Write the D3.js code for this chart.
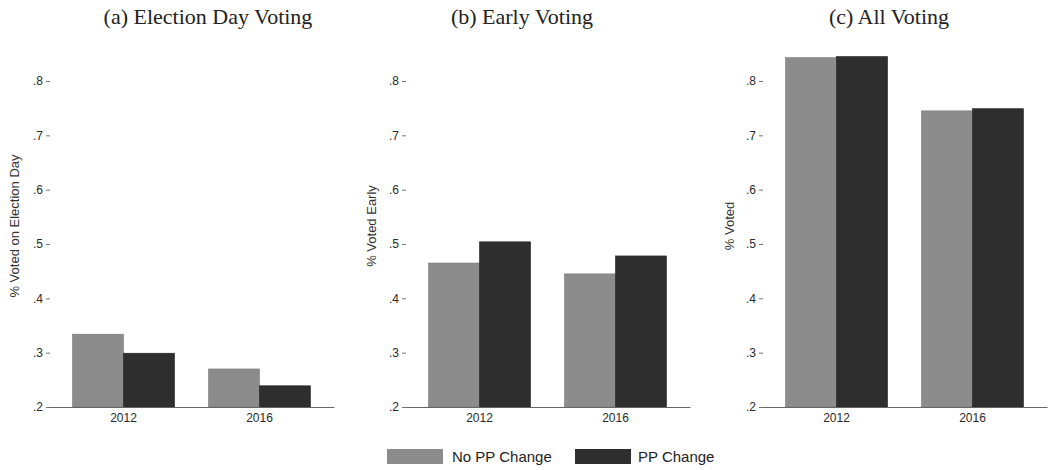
<!DOCTYPE html>
<html>
<head>
<meta charset="utf-8">
<script src="https://cdn.jsdelivr.net/npm/d3@7"></script>
<style>
  body { margin: 0; background: #fff; }
  .tick text { font-family: "Liberation Sans", Arial, sans-serif; fill: #2a2a2a; }
</style>
</head>
<body>
<svg id="chart" width="1049" height="470"></svg>
<script>
// data
const years = ["2012", "2016"];
const series = ["No PP Change", "PP Change"];
const seriesColors = ["#8c8c8c", "#2e2e2e"];
const panelTitles = ["(a) Election Day Voting", "(b) Early Voting", "(c) All Voting"];
const axisTitles = ["% Voted on Election Day", "% Voted Early", "% Voted"];
const electionDay = [[0.334, 0.299], [0.270, 0.239]];
const earlyVote = [[0.465, 0.504], [0.445, 0.478]];
const allVote = [[0.843, 0.845], [0.745, 0.749]];
const yTicks = [0.2, 0.3, 0.4, 0.5, 0.6, 0.7, 0.8];

const panelValues = [electionDay, earlyVote, allVote];

const svg = d3.select("#chart");

// same y scale in all three panels
const y = d3.scaleLinear().domain([0.2, 0.8]).range([407, 81]);

const panels = [
    { left: 49, titleX: 208, labelX: 15 },
    { left: 405, titleX: 522, labelX: 372 },
    { left: 762, titleX: 889, labelX: 730 }
];
const plotWidth = 285;

panels.forEach((p, i) => {
    const g = svg.append("g");

    const x = d3.scaleBand()
        .domain(years)
        .range([p.left, p.left + plotWidth])
        .paddingInner(0.25)
        .paddingOuter(0.173);

    const xSub = d3.scaleBand()
        .domain(series)
        .range([0, x.bandwidth()]);

    // bars
    years.forEach((yr, yi) => {
        g.selectAll(".bar-" + yi)
            .data(panelValues[i][yi])
            .enter()
            .append("rect")
            .attr("x", (d, si) => x(yr) + xSub(series[si]))
            .attr("y", d => y(d))
            .attr("width", xSub.bandwidth())
            .attr("height", d => y(0.2) - y(d))
            .attr("fill", (d, si) => seriesColors[si])
            .attr("stroke", (d, si) => si === 0 ? "#7a7a7a" : "#222")
            .attr("stroke-width", 0.6);
    });

    // x axis
    const xAxis = g.append("g")
        .attr("transform", `translate(0, ${y(0.2)})`)
        .call(d3.axisBottom(x).tickSize(0).tickPadding(6));
    xAxis.select(".domain").attr("stroke", "#666").attr("stroke-width", 1.2);
    xAxis.selectAll("text").attr("font-size", 12);

    // y axis, ticks only
    const yAxis = g.append("g")
        .attr("transform", `translate(${p.left + 1}, 0)`)
        .call(d3.axisLeft(y).tickValues(yTicks)
            .tickFormat(d => d3.format(".1f")(d).replace(/^0/, ""))
            .tickSize(4).tickPadding(3));
    yAxis.select(".domain").remove();
    yAxis.selectAll("line").attr("stroke", "#777");
    yAxis.selectAll("text").attr("font-size", 12);

    // titles
    svg.append("text")
        .attr("x", p.titleX)
        .attr("y", 24)
        .attr("text-anchor", "middle")
        .style("font-family", "'Liberation Serif', 'Times New Roman', serif")
        .style("font-size", "22px")
        .style("fill", "#222")
        .text(panelTitles[i]);

    svg.append("text")
        .attr("transform", `translate(${p.labelX + 4}, 226) rotate(-90)`)
        .attr("text-anchor", "middle")
        .style("font-family", "'Liberation Sans', Arial, sans-serif")
        .style("font-size", "13px")
        .style("fill", "#333")
        .text(axisTitles[i]);
});

// legend
const legendItems = [
    { x: 387, textX: 452 },
    { x: 575, textX: 638 }
];
series.forEach((s, si) => {
    svg.append("rect")
        .attr("x", legendItems[si].x)
        .attr("y", 449)
        .attr("width", 56)
        .attr("height", 15)
        .attr("fill", seriesColors[si]);
    svg.append("text")
        .attr("x", legendItems[si].textX)
        .attr("y", 462)
        .style("font-family", "'Liberation Sans', Arial, sans-serif")
        .style("font-size", "15px")
        .style("fill", "#222")
        .text(s);
});
</script>
</body>
</html>
